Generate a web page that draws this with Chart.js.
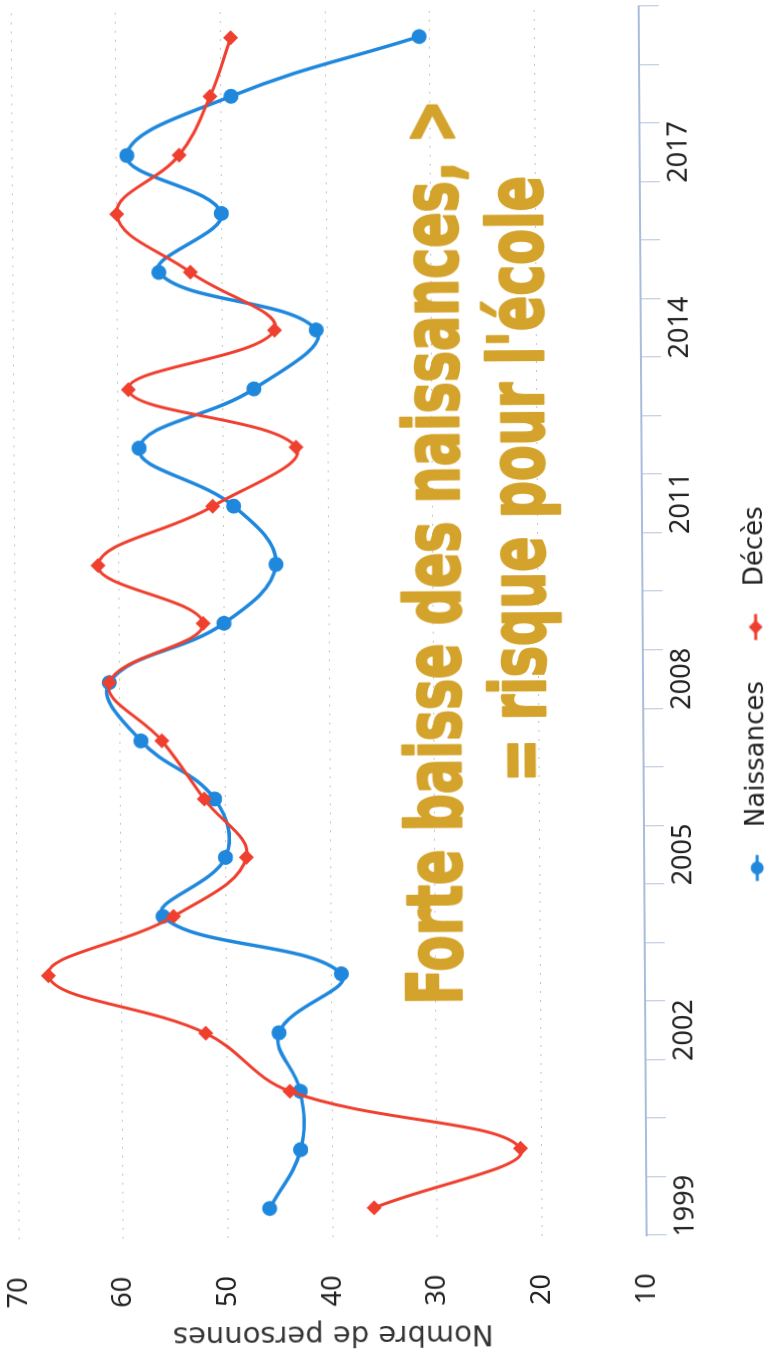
<!DOCTYPE html>
<html lang="fr">
<head>
<meta charset="UTF-8">
<title>Naissances et décès</title>
<script src="https://cdn.jsdelivr.net/npm/chart.js"></script>
<style>
  html, body { margin: 0; padding: 0; background: #fff; overflow: hidden; width: 770px; height: 1357px; }
  #page { position: absolute; left: 0; top: 0; width: 770px; height: 1357px; transform-origin: 385px 678px; transform: rotate(-0.37deg); }
  /* the chart is drawn lying on its side, as in the scan */
  #wrap { position: absolute; left: 0; top: 0; width: 1357px; height: 779px; transform-origin: 0 0; transform: translate(0, 1357px) rotate(-90deg); }
</style>
</head>
<body>
<div id="page">
  <div id="wrap">
    <canvas id="graphique" width="1357" height="779"></canvas>
  </div>
</div>

<script>
  // données
  const annees = ['1999', '2000', '2001', '2002', '2003', '2004', '2005', '2006', '2007', '2008',
                  '2009', '2010', '2011', '2012', '2013', '2014', '2015', '2016', '2017', '2018', '2019'];
  const naissances = [46, 43, 43, 45, 39, 56, 50, 51, 58, 61, 50, 45, 49, 58, 47, 41, 56, 50, 59, 49, 31];
  const deces      = [36, 22, 44, 52, 67, 55, 48, 52, 56, 61, 52, 62, 51, 43, 59, 45, 53, 60, 54, 51, 49];
  const graduations = [10, 20, 30, 40, 50, 60, 70];
  const texteNote = ['Forte baisse des naissances, >', '= risque pour l\'école'];

  const bleu = '#1f88dd';
  const rouge = '#ef3f2e';
  const police = '"Noto Sans", "DejaVu Sans", sans-serif';
  const policeLarge = '"DejaVu Sans", "Noto Sans", sans-serif';

  // petit symbole trait + marqueur pour la légende (dessiné à gauche, le reste sert d'espace)
  function symbole(couleur, forme) {
    const c = document.createElement('canvas');
    c.width = 42; c.height = 18;
    const g = c.getContext('2d');
    g.strokeStyle = couleur; g.fillStyle = couleur; g.lineWidth = 3;
    g.beginPath(); g.moveTo(1, 9); g.lineTo(27, 9); g.stroke();
    g.beginPath();
    if (forme === 'rond') {
      g.arc(14, 9, 6.5, 0, Math.PI * 2);
    } else {
      g.moveTo(14, 2); g.lineTo(21, 9); g.lineTo(14, 16); g.lineTo(7, 9); g.closePath();
    }
    g.fill();
    return c;
  }
  const symboles = [symbole(bleu, 'rond'), symbole(rouge, 'losange')];

  // texte d'annotation jaune + légende un peu décalée
  const note = {
    id: 'note',
    beforeDraw(chart) {
      chart.legend.right = chart.width - 40;
    },
    afterDatasetsDraw(chart) {
      const ctx = chart.ctx;
      ctx.save();
      ctx.fillStyle = '#d4a32c';
      ctx.strokeStyle = '#d4a32c';
      ctx.lineWidth = 2.5;
      ctx.lineJoin = 'round';
      ctx.textBaseline = 'alphabetic';
      ctx.textAlign = 'left';
      ctx.font = 'bold 76px "DejaVu Sans Condensed", "Liberation Sans Narrow", sans-serif';
      ctx.fillText(texteNote[0], 352, 460, 905);
      ctx.strokeText(texteNote[0], 352, 460, 905);
      ctx.fillText(texteNote[1], 574, 545, 606);
      ctx.strokeText(texteNote[1], 574, 545, 606);
      ctx.restore();
    }
  };

  new Chart(document.getElementById('graphique'), {
    type: 'line',
    data: {
      labels: annees,
      datasets: [
        {
          label: 'Naissances',
          data: naissances,
          borderColor: bleu,
          backgroundColor: bleu,
          borderWidth: 3.5,
          pointStyle: 'circle',
          pointRadius: 7.5,
          pointBorderWidth: 0,
          tension: 0.4,
          order: 2
        },
        {
          label: 'Décès',
          data: deces,
          borderColor: rouge,
          backgroundColor: rouge,
          borderWidth: 3,
          pointStyle: 'rectRot',
          pointRadius: 7.5,
          pointBorderWidth: 0,
          tension: 0.4,
          order: 1
        }
      ]
    },
    options: {
      responsive: false,
      animation: false,
      layout: { padding: { left: 4, right: 5, top: 0, bottom: 0 } },
      plugins: {
        tooltip: { enabled: false },
        legend: {
          position: 'bottom',
          labels: {
            usePointStyle: true,
            pointStyleWidth: 42,
            padding: 40,
            color: '#222',
            font: { family: policeLarge, size: 26 },
            generateLabels(chart) {
              const items = Chart.defaults.plugins.legend.labels.generateLabels(chart);
              items.sort((a, b) => a.datasetIndex - b.datasetIndex);
              items.forEach(it => { it.pointStyle = symboles[it.datasetIndex]; });
              return items;
            }
          }
        }
      },
      scales: {
        x: {
          offset: true,
          afterFit(s) { s.height = 60; },
          grid: { drawOnChartArea: false, drawTicks: true, tickLength: 20, color: '#b3c5de', offset: true },
          border: { display: true, color: '#a9bddb', width: 2 },
          ticks: {
            autoSkip: false,
            maxRotation: 0,
            padding: 3,
            color: '#222',
            font: { family: police, size: 27 },
            callback(val, i) { return i % 3 === 0 ? this.getLabelForValue(val) : ''; }
          }
        },
        y: {
          min: graduations[0],
          max: graduations[graduations.length - 1],
          afterFit(s) { s.width = 116; s.paddingTop = 15; s.paddingBottom = 15; },
          afterBuildTicks(s) { s.ticks = graduations.map(v => ({ value: v })); },
          grid: { drawTicks: false, color: '#c4c4c4', lineWidth: 1 },
          border: { display: false, dash: [2, 7] },
          ticks: {
            padding: 38,
            color: '#222',
            font: { family: police, size: 27 }
          },
          title: {
            display: true,
            text: 'Nombre de personnes',
            color: '#333',
            padding: { top: 2, bottom: 4 },
            font: { family: policeLarge, size: 29 }
          }
        }
      }
    },
    plugins: [note]
  });
</script>
</body>
</html>
